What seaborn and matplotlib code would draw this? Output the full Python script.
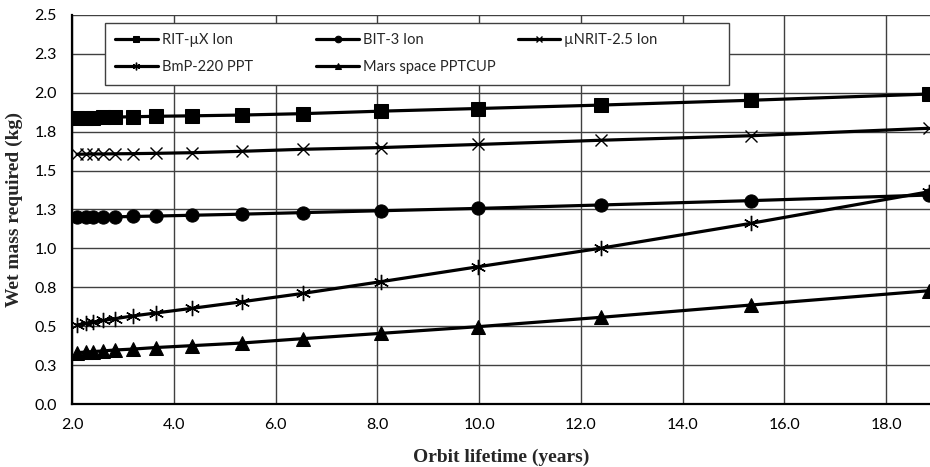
import seaborn as sns
from matplotlib import pyplot as plt
import pandas as pd

# orbit lifetime (years) shared by all thrusters
lifetime = [2.10, 2.27, 2.42, 2.61, 2.84, 3.20, 3.65, 4.36, 5.34, 6.54,
            8.07, 9.98, 12.39, 15.34, 18.84]

rit_ux = [1.836, 1.838, 1.840, 1.842, 1.844, 1.846, 1.849, 1.852, 1.857, 1.866,
          1.882, 1.899, 1.921, 1.952, 1.992]
bit_3 = [1.200, 1.200, 1.201, 1.202, 1.203, 1.205, 1.208, 1.213, 1.220, 1.230,
         1.242, 1.257, 1.279, 1.307, 1.343]
unrit = [1.605, 1.606, 1.607, 1.607, 1.608, 1.609, 1.611, 1.615, 1.624, 1.637,
         1.648, 1.668, 1.695, 1.724, 1.772]
bmp_220 = [0.508, 0.518, 0.527, 0.537, 0.548, 0.566, 0.585, 0.615, 0.657, 0.711,
           0.786, 0.882, 1.001, 1.161, 1.364]
mars_cup = [0.330, 0.334, 0.337, 0.341, 0.347, 0.353, 0.363, 0.375, 0.392, 0.420,
            0.454, 0.497, 0.557, 0.636, 0.728]

series_names = ["RIT-\u00b5X Ion", "BIT-3 Ion", "\u00b5NRIT-2.5 Ion",
                "BmP-220 PPT", "Mars space PPTCUP"]
series_values = [rit_ux, bit_3, unrit, bmp_220, mars_cup]

y_ticks = [0.0, 0.25, 0.5, 0.75, 1.0, 1.25, 1.5, 1.75, 2.0, 2.25, 2.5]
y_tick_labels = ["0.0", "0.3", "0.5", "0.8", "1.0", "1.3", "1.5", "1.8", "2.0", "2.3", "2.5"]
x_ticks = [2.0, 4.0, 6.0, 8.0, 10.0, 12.0, 14.0, 16.0, 18.0]
x_tick_labels = ["2.0", "4.0", "6.0", "8.0", "10.0", "12.0", "14.0", "16.0", "18.0"]

# long form table for seaborn
df = pd.concat([pd.DataFrame({"lifetime": lifetime, "mass": v, "thruster": n})
                for n, v in zip(series_names, series_values)], ignore_index=True)

sns.set_style("white")
plt.rcParams['font.family'] = ['Lato', 'DejaVu Sans']

fig = plt.figure(figsize=(9.3, 4.67), dpi=100)
ax = fig.add_axes([0.0774, 0.1349, 0.9226, 0.8330])

# marker style per thruster (filled and line-art markers can't share one lineplot call)
marker_kw = {
    "RIT-\u00b5X Ion": dict(marker="s", markersize=9.5),
    "BIT-3 Ion": dict(marker="o", markersize=9.5),
    "\u00b5NRIT-2.5 Ion": dict(marker="x", markersize=9, markeredgewidth=1.0),
    "BmP-220 PPT": dict(marker=(6, 2, 0), markersize=11, markeredgewidth=1.0),
    "Mars space PPTCUP": dict(marker="^", markersize=9.5),
}
for name in series_names:
    sub = df[df["thruster"] == name]
    sns.lineplot(data=sub, x="lifetime", y="mass", ax=ax, color="black", linewidth=2.3,
                 label=name, markeredgecolor="black", markerfacecolor="black",
                 **marker_kw[name])

ax.set_xlim(2.0, 18.86)
ax.set_ylim(0.0, 2.5)
ax.set_xticks(x_ticks)
ax.set_xticklabels(x_tick_labels)
ax.set_yticks(y_ticks)
ax.set_yticklabels(y_tick_labels)
ax.tick_params(axis="both", length=0, labelsize=11.5, colors="black")
ax.tick_params(axis="x", pad=10)
ax.tick_params(axis="y", pad=11)
ax.grid(True, color="#404040", linewidth=1.0)
ax.set_axisbelow(True)
for side in ["top", "right"]:
    ax.spines[side].set_visible(False)
for side in ["left", "bottom"]:
    ax.spines[side].set_color("black")
    ax.spines[side].set_linewidth(1.6)

ax.set_xlabel("Orbit lifetime (years)", fontfamily="Liberation Serif", fontweight="bold",
              fontsize=14, labelpad=12)
ax.set_ylabel("Wet mass required (kg)", fontfamily="Liberation Serif", fontweight="bold",
              fontsize=14, labelpad=8)

# legend filled row by row like the original
handles, labels = ax.get_legend_handles_labels()
order = [0, 3, 1, 4, 2]
leg = ax.legend([handles[i] for i in order], [labels[i] for i in order], ncol=3,
                loc="upper left", bbox_to_anchor=(0.0385, 0.979), borderaxespad=0,
                fontsize=10.5, frameon=True, fancybox=False, edgecolor="#404040",
                framealpha=1, markerscale=0.5, handlelength=2.9, handletextpad=0.3,
                columnspacing=1.5, borderpad=0.7, labelspacing=0.9)
leg.get_frame().set_linewidth(1.0)
# excel gives every legend column the same width
leg._legend_handle_box.mode = "equal"

fig.savefig("out.png", dpi=100)
